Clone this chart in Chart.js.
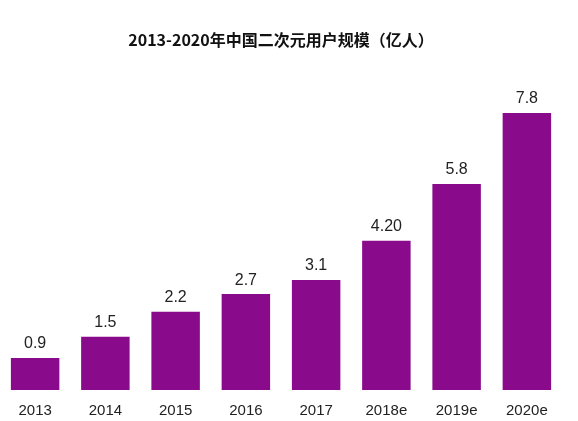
<!DOCTYPE html>
<html><head><meta charset="utf-8">
<script src="https://cdn.jsdelivr.net/npm/chart.js@4/dist/chart.umd.min.js"></script>
<style>html,body{margin:0;padding:0;background:#fff}#w{width:578px;height:421px}</style>
</head><body><div id="w"><canvas id="c"></canvas></div>
<script>
const categories = ['2013','2014','2015','2016','2017','2018e','2019e','2020e'];
const values = [0.9,1.5,2.2,2.7,3.1,4.2,5.8,7.8];
const valueLabels = ['0.9','1.5','2.2','2.7','3.1','4.20','5.8','7.8'];
const titleText = '2013-2020年中国二次元用户规模（亿人）';
const labelPlugin = {
  id:'vl',
  afterDatasetsDraw(chart){
    const ctx=chart.ctx, meta=chart.getDatasetMeta(0);
    ctx.save();ctx.font='16px "Liberation Sans", Arial';ctx.fillStyle='#222';ctx.textAlign='center';ctx.textBaseline='bottom';
    meta.data.forEach((b,i)=>ctx.fillText(valueLabels[i],b.x,b.y-6));
    ctx.restore();
  }
};
new Chart(document.getElementById('c'),{
  type:'bar',
  data:{labels:categories,datasets:[{data:values,backgroundColor:'#8a0a8c',categoryPercentage:1,barPercentage:0.69}]},
  options:{responsive:true,maintainAspectRatio:false,animation:false,
    layout:{padding:{left:0,right:16,top:0,bottom:-11}},
    plugins:{legend:{display:false},tooltip:{enabled:false},
      title:{display:true,text:titleText,color:'#111',font:{family:'"Noto Sans CJK SC"',size:16,weight:'bold'},padding:{top:30,bottom:8}}},
    scales:{
      x:{offset:true,grid:{display:false,drawTicks:false},border:{display:false},ticks:{color:'#222',padding:12,font:{family:'"Liberation Sans", Arial',size:15}}},
      y:{display:false,min:0,max:9.37}
    }}
  ,plugins:[labelPlugin]});
</script></body></html>
